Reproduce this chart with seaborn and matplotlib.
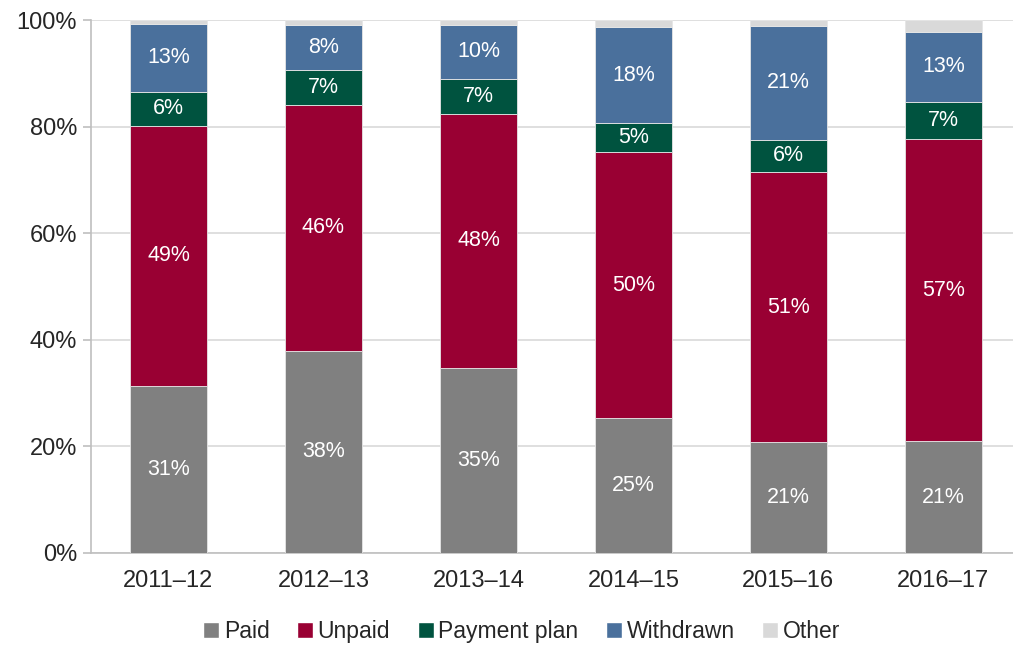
import matplotlib
matplotlib.use("Agg")
import matplotlib.pyplot as plt
from matplotlib.patches import Patch
from matplotlib.ticker import FixedLocator, PercentFormatter
import seaborn as sns
import pandas as pd
import numpy as np

years = ["2011–12", "2012–13", "2013–14", "2014–15", "2015–16", "2016–17"]
paid = [31.4, 37.9, 34.8, 25.3, 20.8, 21.0]
unpaid = [48.8, 46.2, 47.6, 49.9, 50.7, 56.6]
payment_plan = [6.3, 6.6, 6.6, 5.4, 6.0, 7.1]
withdrawn = [12.8, 8.4, 10.1, 18.0, 21.4, 13.1]
other = [0.7, 0.9, 0.9, 1.4, 1.1, 2.2]

series = ["Paid", "Unpaid", "Payment plan", "Withdrawn", "Other"]
colors = ["#808080", "#990033", "#00533F", "#4A709C", "#D9D9D9"]

df = pd.DataFrame({"year": years, "Paid": paid, "Unpaid": unpaid,
                   "Payment plan": payment_plan, "Withdrawn": withdrawn,
                   "Other": other})

sns.set_style("white")
plt.rcParams["font.family"] = ["Liberation Sans", "DejaVu Sans"]

fig = plt.figure(figsize=(10.13, 6.46), dpi=100)
ax = fig.add_axes([0.0898, 0.144, 0.918, 0.825])

# stacked bars, one barplot call per series
bottom = np.zeros(len(years))
for name, col in zip(series, colors):
    sns.barplot(data=df, x="year", y=name, color=col, width=0.5,
                bottom=bottom, ax=ax, zorder=3, saturation=1,
                linewidth=0.6, edgecolor="#E6E6E6")
    if name != "Other":
        for i, v in enumerate(df[name]):
            ax.text(i, bottom[i] + v / 2, f"{round(v):d}%", ha="center",
                    va="center", color="white", fontsize=15.5, zorder=4)
    bottom = bottom + df[name].values

ax.set_xlim(-0.5, 5.5)
ax.set_ylim(0, 100)
ax.yaxis.set_major_locator(FixedLocator([0, 20, 40, 60, 80, 100]))
ax.yaxis.set_major_formatter(PercentFormatter(decimals=0))
ax.grid(axis="y", color="#D9D9D9", linewidth=1.2, zorder=0)
ax.set_xlabel("")
ax.set_ylabel("")

ax.set_xticks(range(len(years)))
ax.set_xticklabels(years)
ax.tick_params(axis="x", length=0, pad=12, labelsize=17)
ax.set_xticks(np.arange(0.5, 5.5, 1), minor=True)
ax.tick_params(axis="x", which="minor", length=6, color="#BFBFBF", width=1.2)
ax.tick_params(axis="y", length=6, color="#BFBFBF", width=1.2, labelsize=17, pad=4, left=True)

for s in ["top", "right"]:
    ax.spines[s].set_visible(False)
for s in ["left", "bottom"]:
    ax.spines[s].set_color("#BFBFBF")
    ax.spines[s].set_linewidth(1.2)

handles = [Patch(facecolor=c, label=n) for n, c in zip(series, colors)]
fig.legend(handles=handles, loc="center", bbox_to_anchor=(0.515, 0.022),
           ncol=5, frameon=False, fontsize=16.5, handlelength=0.7,
           handleheight=0.7, handletextpad=0.2, columnspacing=1.2)

fig.savefig("out.png", dpi=100)
